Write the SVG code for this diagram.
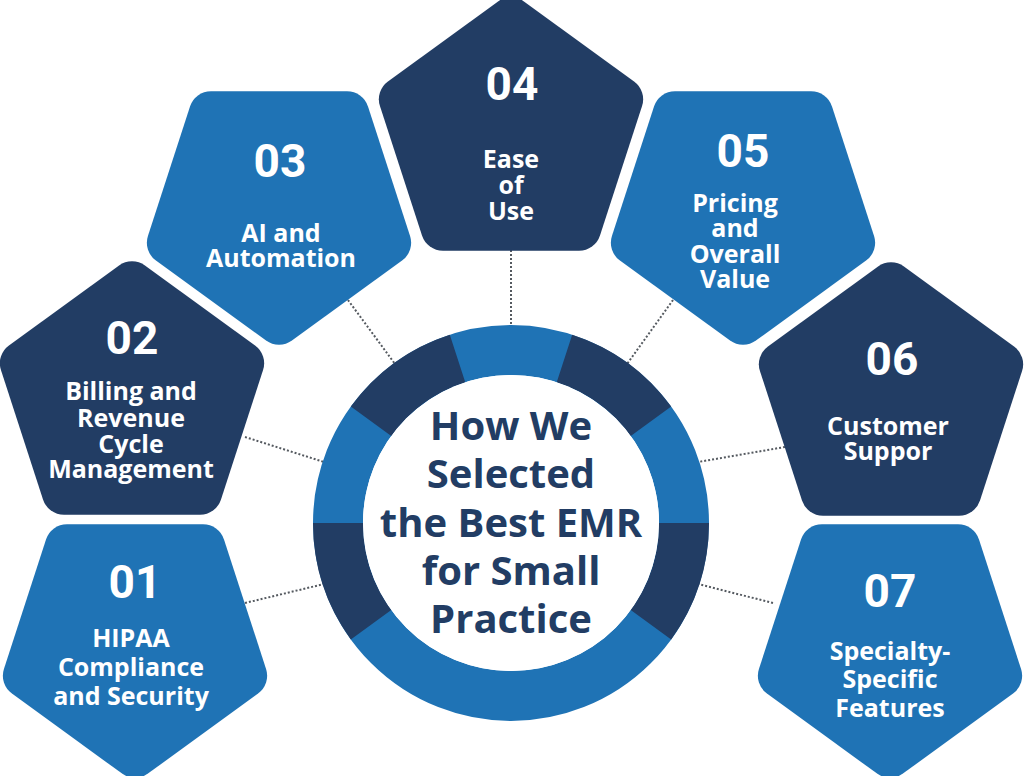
<svg xmlns="http://www.w3.org/2000/svg" xmlns:xlink="http://www.w3.org/1999/xlink" width="1024" height="776" viewBox="0 0 1024 776">
<style>
.dark{fill:#223d64}
.blue{fill:#1f73b5}
.num{font-family:Roboto,"Liberation Sans",Arial,sans-serif;font-weight:700;font-size:46px;fill:#ffffff;text-anchor:middle}
.lbl{font-family:"Open Sans","Noto Sans",Arial,sans-serif;font-weight:700;font-size:25px;fill:#ffffff;text-anchor:middle}
.title{font-family:"Open Sans","Noto Sans",Arial,sans-serif;font-weight:700;font-size:40px;fill:#223d64;text-anchor:middle}
.conn{fill:none;stroke:#555a60;stroke-width:2;stroke-dasharray:2 2}
.seg{fill:none;stroke-width:50}
</style>
<defs>
<path id="pent" d="M12.93,-133.61 L123.07,-53.58 A22,22 0 0 1 131.06,-28.99 L88.99,100.49 A22,22 0 0 1 68.07,115.69 L-68.07,115.69 A22,22 0 0 1 -88.99,100.49 L-131.06,-28.99 A22,22 0 0 1 -123.07,-53.58 L-12.93,-133.61 A22,22 0 0 1 12.93,-133.61 Z"/>
</defs>
<rect width="1024" height="776" fill="#ffffff"/>
<g id="connectors">
<line class="conn" x1="245" y1="603" x2="324" y2="584"/>
<line class="conn" x1="245" y1="437" x2="324" y2="462"/>
<line class="conn" x1="348" y1="300" x2="395" y2="364"/>
<line class="conn" x1="511" y1="250" x2="511" y2="326"/>
<line class="conn" x1="673" y1="300" x2="627" y2="364"/>
<line class="conn" x1="785" y1="447" x2="698" y2="462"/>
<line class="conn" x1="773" y1="603" x2="698" y2="584"/>
</g>
<g id="center">
<circle cx="511" cy="523" r="173" class="seg" stroke="#1f73b5"/>
<path class="seg" stroke="#223d64" d="M564.46,358.47 A173,173 0 0 1 650.96,421.31 M684,523 A173,173 0 0 1 650.96,624.69 M371.04,624.69 A173,173 0 0 1 338,523 M371.04,421.31 A173,173 0 0 1 457.54,358.47"/>
<circle cx="511" cy="523" r="148" fill="#ffffff"/>
<text class="title" x="511" y="440">How We</text>
<text class="title" x="511" y="488">Selected</text>
<text class="title" x="511" y="537">the Best EMR</text>
<text class="title" x="511" y="585">for Small</text>
<text class="title" x="511" y="633">Practice</text>
</g>
<g id="node01">
<use xlink:href="#pent" class="blue" transform="translate(135,640) rotate(180)"/>
<text class="num" x="135" y="598">01</text>
<text class="lbl" x="131" y="647">HIPAA</text>
<text class="lbl" x="131" y="676">Compliance</text>
<text class="lbl" x="131" y="705">and Security</text>
</g>
<g id="node02">
<use xlink:href="#pent" class="dark" transform="translate(132,399)"/>
<text class="num" x="132" y="354">02</text>
<text class="lbl" x="131" y="400">Billing and</text>
<text class="lbl" x="131" y="427">Revenue</text>
<text class="lbl" x="131" y="453">Cycle</text>
<text class="lbl" x="131" y="478">Management</text>
</g>
<g id="node03">
<use xlink:href="#pent" class="blue" transform="translate(279,207) rotate(180)"/>
<text class="num" x="280" y="177">03</text>
<text class="lbl" x="281" y="242">AI and</text>
<text class="lbl" x="281" y="267">Automation</text>
</g>
<g id="node04">
<use xlink:href="#pent" class="dark" transform="translate(511,135)"/>
<text class="num" x="512" y="100">04</text>
<text class="lbl" x="511" y="168">Ease</text>
<text class="lbl" x="511" y="194">of</text>
<text class="lbl" x="511" y="220">Use</text>
</g>
<g id="node05">
<use xlink:href="#pent" class="blue" transform="translate(743,207) rotate(180)"/>
<text class="num" x="743" y="167">05</text>
<text class="lbl" x="735" y="212">Pricing</text>
<text class="lbl" x="735" y="237">and</text>
<text class="lbl" x="735" y="263">Overall</text>
<text class="lbl" x="735" y="288">Value</text>
</g>
<g id="node06">
<use xlink:href="#pent" class="dark" transform="translate(891,400)"/>
<text class="num" x="892" y="375">06</text>
<text class="lbl" x="888" y="435">Customer</text>
<text class="lbl" x="888" y="460">Suppor</text>
</g>
<g id="node07">
<use xlink:href="#pent" class="blue" transform="translate(890,640) rotate(180)"/>
<text class="num" x="890" y="607">07</text>
<text class="lbl" x="890" y="660">Specialty-</text>
<text class="lbl" x="890" y="688">Specific</text>
<text class="lbl" x="890" y="717">Features</text>
</g>
</svg>
